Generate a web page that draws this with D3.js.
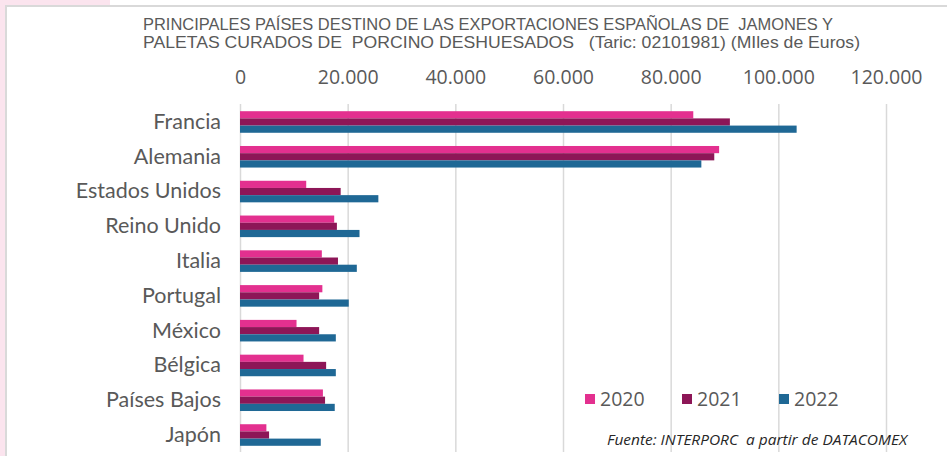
<!DOCTYPE html>
<html>
<head>
<meta charset="utf-8">
<script src="https://cdn.jsdelivr.net/npm/d3@7"></script>
<style>
  html, body { margin: 0; padding: 0; background: #ffffff; }
  svg { display: block; }
  text { white-space: pre; }
</style>
</head>
<body>
<svg id="chart" width="947" height="456"></svg>
<script>
// Export destinations (thousand euros) for cured boneless hams and shoulders
const categories = ["Francia", "Alemania", "Estados Unidos", "Reino Unido", "Italia",
                    "Portugal", "México", "Bélgica", "Países Bajos", "Japón"];
const years = ["2020", "2021", "2022"];
const values2020 = [84200, 89000, 12300, 17500, 15200, 15300, 10500, 11800, 15400, 4900];
const values2021 = [91000, 88100, 18700, 18000, 18200, 14700, 14700, 16000, 15800, 5400];
const values2022 = [103400, 85700, 25700, 22200, 21700, 20200, 17800, 17800, 17600, 15000];
const tickValues = [0, 20000, 40000, 60000, 80000, 100000, 120000];
const colors = ["#E3308F", "#8D1657", "#1F6895"];
const titleLines = [
  "PRINCIPALES PAÍSES DESTINO DE LAS EXPORTACIONES ESPAÑOLAS DE  JAMONES Y",
  "PALETAS CURADOS DE  PORCINO DESHUESADOS   (Taric: 02101981) (MIles de Euros)"
];
const sourceText = "Fuente: INTERPORC  a partir de DATACOMEX";

const series = [values2020, values2021, values2022];

const svg = d3.select("#chart");
const W = 947, H = 456;

// page frame: pink margin and light grey chart border
svg.append("rect").attr("x", 0).attr("y", 0).attr("width", W).attr("height", H).attr("fill", "#ffffff");
svg.append("rect").attr("x", 0).attr("y", 0).attr("width", 5).attr("height", H).attr("fill", "#FBE4EE");
svg.append("rect").attr("x", 0).attr("y", 0).attr("width", 110).attr("height", 5).attr("fill", "#FBE4EE");
svg.append("line").attr("x1", 5.5).attr("x2", W).attr("y1", 6).attr("y2", 6)
  .attr("stroke", "#D9D9D9").attr("stroke-width", 2);
svg.append("line").attr("x1", 6).attr("x2", 6).attr("y1", 5).attr("y2", H)
  .attr("stroke", "#D9D9D9").attr("stroke-width", 2);

// title, two lines stretched to the chart width
const titleY = [29.5, 48];
const titleW = [690, 717];
titleLines.forEach((t, i) => {
  svg.append("text")
    .attr("x", 143).attr("y", titleY[i])
    .attr("textLength", titleW[i]).attr("lengthAdjust", "spacingAndGlyphs")
    .attr("font-family", "'Liberation Sans', Arial, sans-serif")
    .attr("font-size", 16.5).attr("fill", "#595959")
    .text(t);
});

// scales
const x = d3.scaleLinear().domain([0, 120000]).range([240, 886]);
const y = d3.scaleBand().domain(categories).range([104.6, 452.4])
  .paddingInner(0.38).paddingOuter(0.19);
const yInner = d3.scaleBand().domain(years).range([0, y.bandwidth()]);

const esLocale = d3.formatLocale({ decimal: ",", thousands: ".", grouping: [3], currency: ["", " €"] });
const fmt = esLocale.format(",d");

// vertical gridlines
const grid = svg.append("g").attr("transform", "translate(0,104)")
  .call(d3.axisBottom(x).tickValues(tickValues).tickSize(348).tickFormat(""));
grid.select(".domain").remove();
grid.selectAll(".tick line").attr("stroke", "#D9D9D9").attr("stroke-width", 1.5);

// top axis labels
const axTop = svg.append("g").attr("transform", "translate(0,84)")
  .call(d3.axisTop(x).tickValues(tickValues).tickSize(0).tickPadding(0).tickFormat(fmt));
axTop.select(".domain").remove();
axTop.selectAll("text")
  .attr("font-family", "'Open Sans', sans-serif").attr("font-size", 19.5)
  .attr("fill", "#595959");

// category labels
const axLeft = svg.append("g").attr("transform", "translate(221,0)")
  .call(d3.axisLeft(y).tickSize(0).tickPadding(0));
axLeft.select(".domain").remove();
axLeft.selectAll("text")
  .attr("font-family", "Lato, sans-serif").attr("font-size", 21.5)
  .attr("fill", "#595959");

// bars
const groups = svg.append("g").selectAll("g")
  .data(categories)
  .join("g")
  .attr("transform", d => `translate(0,${y(d)})`);

groups.selectAll("rect")
  .data((d, i) => years.map((yr, k) => ({ year: yr, value: series[k][i], k })))
  .join("rect")
  .attr("x", x(0))
  .attr("y", d => yInner(d.year))
  .attr("width", d => x(d.value) - x(0))
  .attr("height", yInner.bandwidth())
  .attr("fill", d => colors[d.k]);

// legend
const legendX = [585, 682, 779];
const legend = svg.append("g");
years.forEach((yr, i) => {
  legend.append("rect").attr("x", legendX[i]).attr("y", 394).attr("width", 10).attr("height", 10)
    .attr("fill", colors[i]);
  legend.append("text").attr("x", legendX[i] + 15).attr("y", 399)
    .attr("dy", "0.35em")
    .attr("font-family", "'Open Sans', sans-serif").attr("font-size", 19.5)
    .attr("fill", "#595959").text(yr);
});

// source note
svg.append("text")
  .attr("x", 607).attr("y", 445)
  .attr("textLength", 300).attr("lengthAdjust", "spacingAndGlyphs")
  .attr("font-family", "'Open Sans', sans-serif").attr("font-style", "italic")
  .attr("font-size", 14.5).attr("fill", "#262626")
  .text(sourceText);
</script>
</body>
</html>
